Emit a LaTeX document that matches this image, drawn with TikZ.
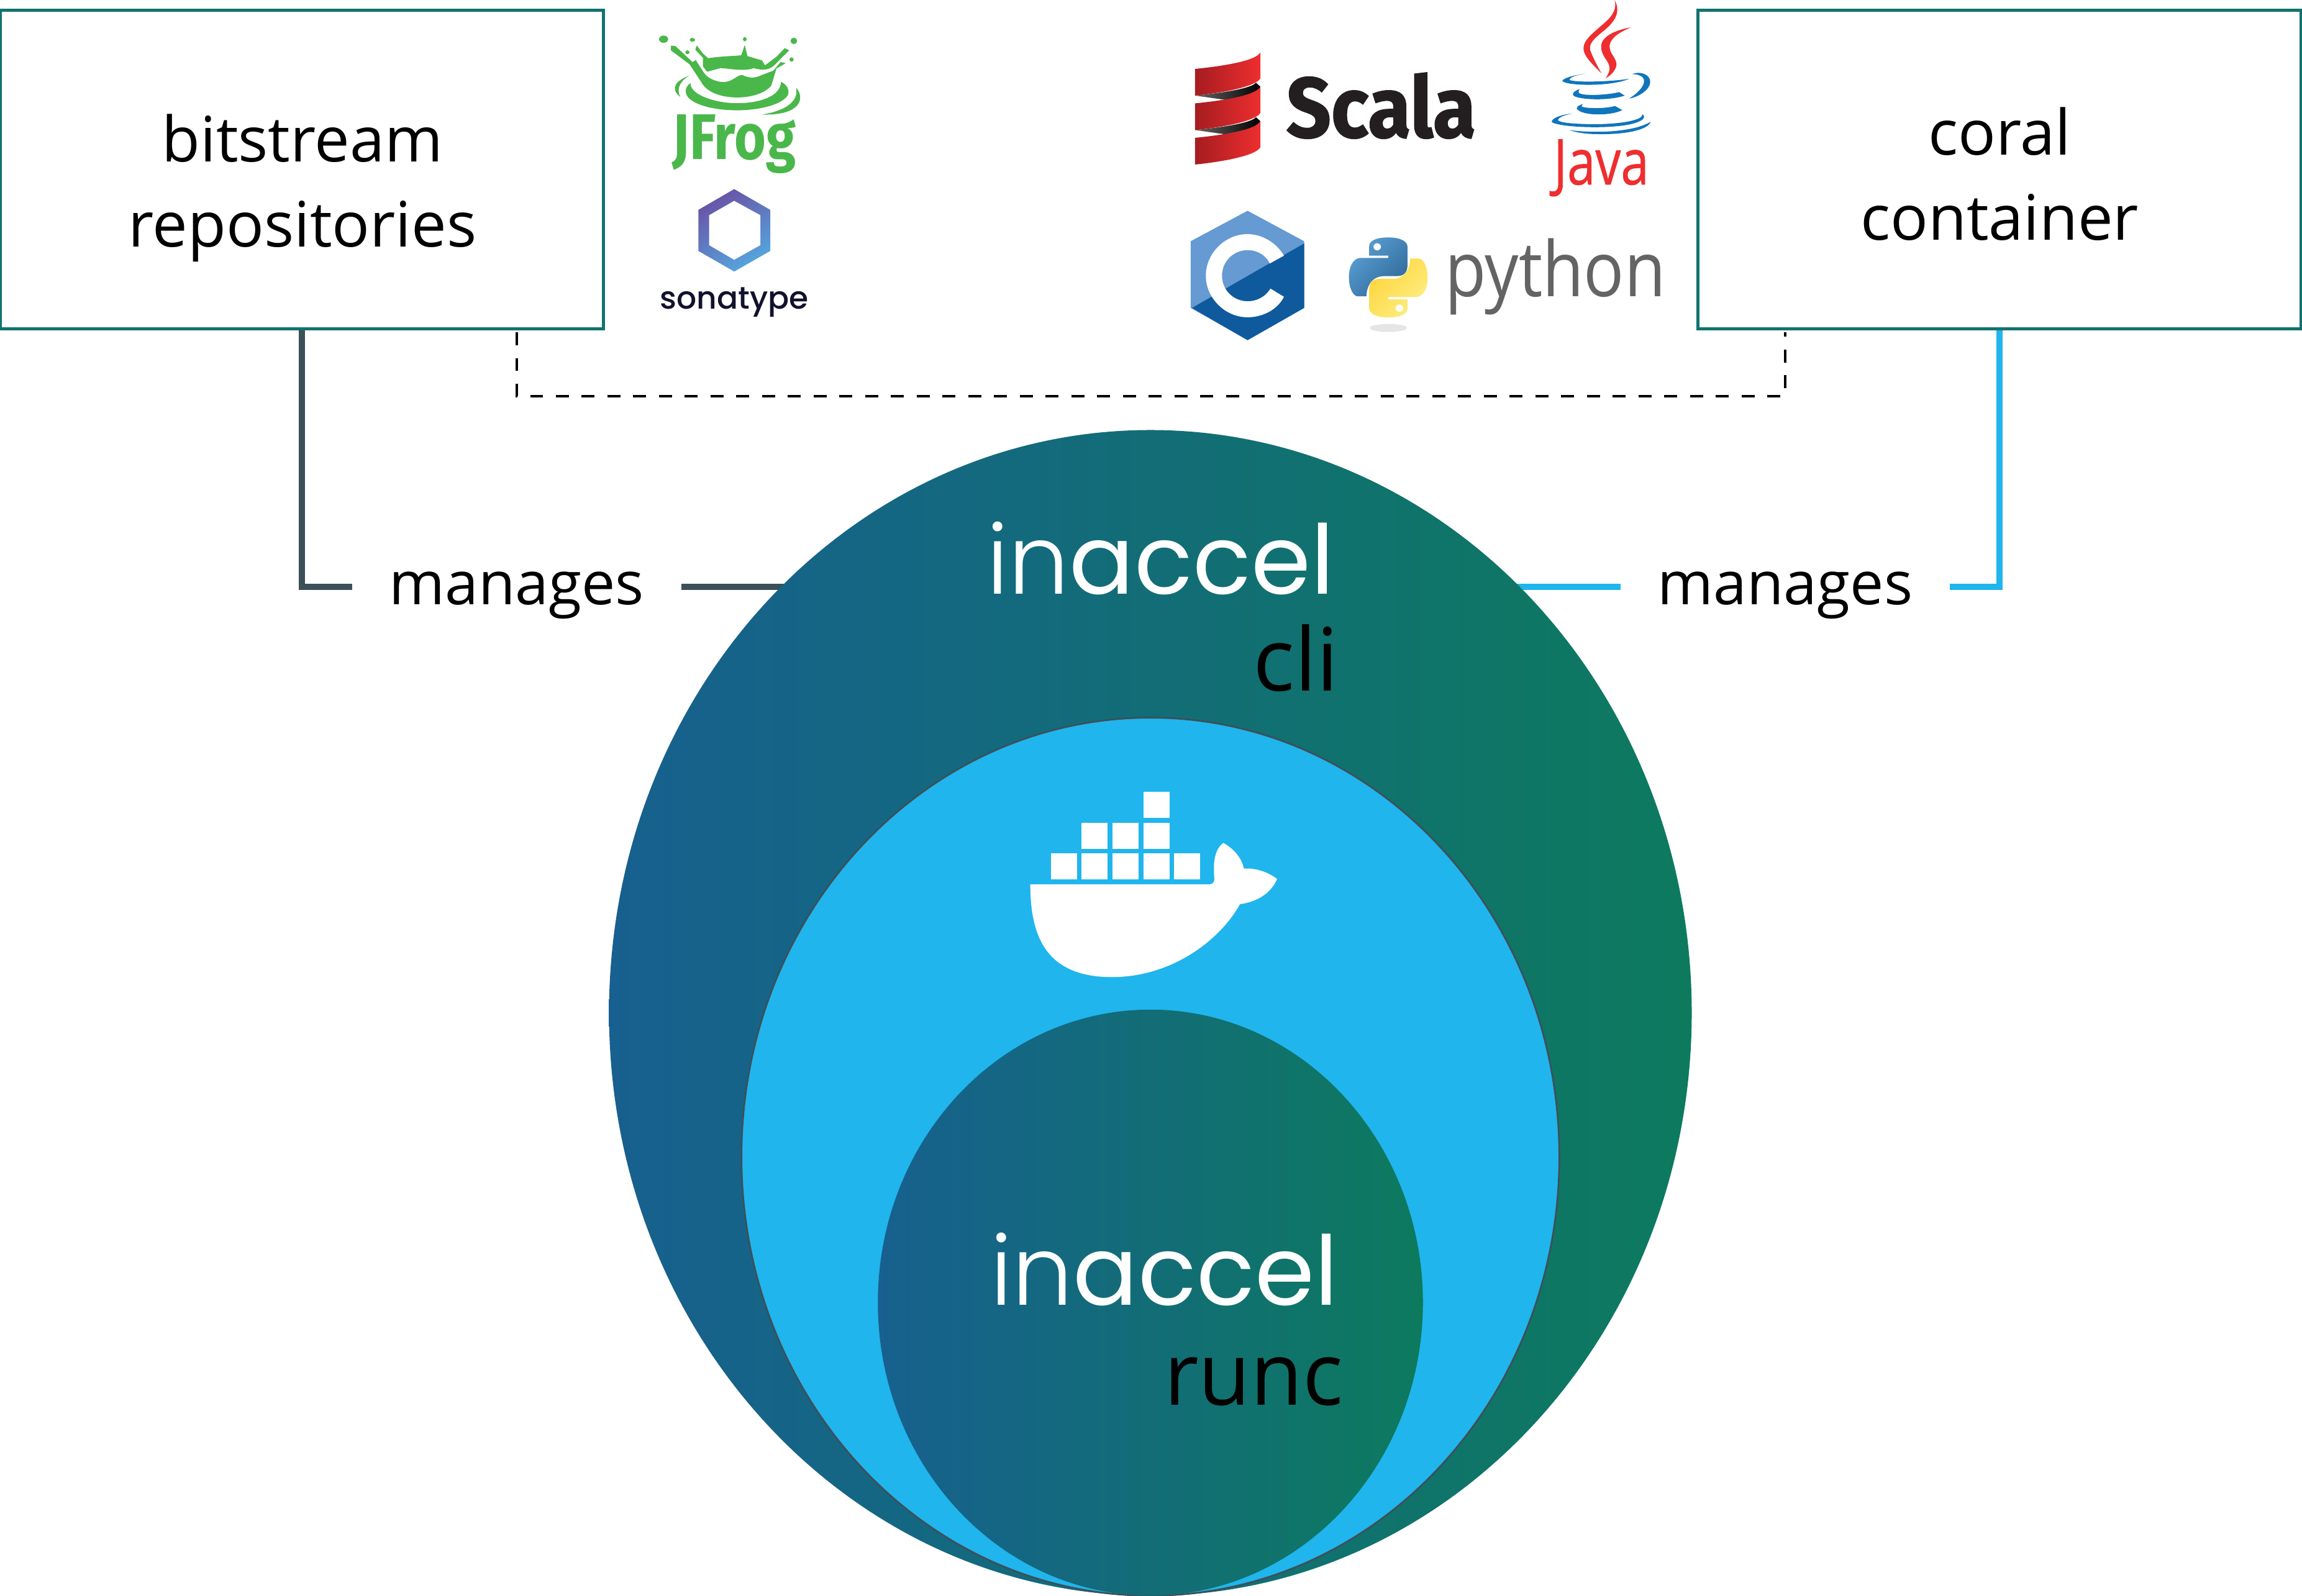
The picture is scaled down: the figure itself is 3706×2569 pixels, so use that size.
\documentclass[tikz,border=0pt]{standalone}
\usepackage{fontspec}
\setmainfont{Open Sans}
\newfontfamily\logofont{Poppins Light}
\newfontfamily\typefont{Poppins}
\newfontfamily\mediumfont{Poppins Medium}
\newfontfamily\heavyfont[BoldFeatures={FakeBold=1.2}]{Fira Sans}
\newfontfamily\boldfont{Fira Sans}
\newfontfamily\javafont[FakeBold=0.7]{Open Sans}
\usetikzlibrary{arrows.meta, positioning, shapes.geometric, calc}
\definecolor{cdeep}{HTML}{17608F}
\definecolor{cmid}{HTML}{0C6E78}
\definecolor{cgreen}{HTML}{0D7A5E}
\definecolor{csky}{HTML}{20B5EC}
\definecolor{cslate}{HTML}{3C505A}
\definecolor{cteal}{HTML}{11736F}
\definecolor{cfrog}{HTML}{4AB74A}
\definecolor{cink}{HTML}{12122E}
\definecolor{csonA}{HTML}{6953A6}
\definecolor{csonB}{HTML}{55A6DE}
\definecolor{cscala}{HTML}{231F20}
\definecolor{cscaladk}{HTML}{A51C20}
\definecolor{cjred}{HTML}{EE2E2F}
\definecolor{cjblue}{HTML}{0F75BC}
\definecolor{cclight}{HTML}{659AD2}
\definecolor{ccdark}{HTML}{0E5A9D}
\definecolor{cpyblue}{HTML}{5A9FD4}
\definecolor{cpydeep}{HTML}{306998}
\definecolor{cpypale}{HTML}{FCEF85}
\definecolor{cpygold}{HTML}{FFD43B}
\definecolor{cpygrey}{HTML}{646464}
\tikzset{
  every picture/.style={line width=1pt},
  boxframe/.style={draw=cteal, line width=1.3pt, minimum width=9.7cm, minimum height=5.13cm, inner sep=0pt},
  boxlabel/.style={align=center, font=\fontsize{28.7}{39}\selectfont, inner sep=0pt},
  manlabel/.style={font=\fontsize{27.5}{33}\selectfont, inner sep=0pt, outer sep=0.6cm, minimum width=4.06cm, text height=24pt, text depth=8pt},
  ringshade/.style={ellipse, inner sep=0pt, left color=cdeep, middle color=cmid, right color=cgreen},
  logoname/.style={font=\fontsize{44}{50}\selectfont, text=white, inner sep=0pt, anchor=base east},
  partname/.style={font=\fontsize{40}{46}\selectfont, text=black, inner sep=0pt, anchor=base east},
  tag/.style={inner sep=0pt, anchor=base},
  linkdark/.style={draw=cslate, line width=2.85pt},
  linksky/.style={draw=csky, line width=2.85pt},
  linkdash/.style={draw=black, line width=1.1pt, dash pattern=on 5.9pt off 5.9pt},
}
\begin{document}
\begin{tikzpicture}[x=0.01cm, y=-0.01cm]
  \useasboundingbox (0,0) rectangle (3706,2569);
  \node[boxframe] (repos) at (486,273) {};
  \node[boxframe] (coral) at (3219,273) {};
  \node[boxlabel] (reposlabel) at (487,303) {bitstream\\repositories};
  \node[boxlabel] (corallabel) at (3219,280) {coral\\container};
  \node[manlabel] (manleft) at (832,945) {manages};
  \node[manlabel] (manright) at (2874,945) {manages};
  \coordinate (dashleft) at (832,535);
  \coordinate (dashright) at (2874,535);
  \coordinate (cliwest) at (1270,945);
  \coordinate (clieast) at (2440,945);
  \draw[linkdash] (dashleft) -- (832,638) -- (2874,638) -- (dashright);
  \draw[linkdark] (repos.south) |- (manleft.west);
  \draw[linkdark] (manleft.east) -- (cliwest);
  \draw[linksky] (coral.south) |- (manright.east);
  \draw[linksky] (manright.west) -- (clieast);
  \node[ringshade, minimum width=17.42cm, minimum height=18.76cm] (cli) at (1852,1631) {};
  \node[ellipse, fill=csky, draw=cslate, line width=0.8pt, inner sep=0pt, minimum width=13.16cm, minimum height=14.13cm] (docker) at (1852,1862.5) {};
  \node[ringshade, minimum width=8.77cm, minimum height=9.43cm] (runc) at (1852,2097.5) {};
  \node[logoname] (cliname) at (2150,956) {{\logofont in}{\typefont accel}};
  \node[partname] (clipart) at (2157,1112) {cli};
  \node[logoname] (runcname) at (2156,2101) {{\logofont in}{\typefont accel}};
  \node[partname] (runcpart) at (2164,2262) {\scalebox{.97}[1]{runc}};
  \begin{scope}[shift={(1600,1240)}, scale=1/3]
    \foreach \X/\Y in {276/402, 424/402, 573/402, 722/402, 871/402, 424/254, 573/254, 722/254, 722/105} {
      \fill[white] (\X,\Y) rectangle ++(126,126);
    }
    \fill[white] (176,552) -- (1040,552) .. controls (1058,552) and (1066,540) .. (1065,525)
      .. controls (1058,450) and (1065,385) .. (1108,352) .. controls (1160,380) and (1200,430) .. (1207,476)
      .. controls (1260,472) and (1320,490) .. (1368,526) .. controls (1340,590) and (1280,635) .. (1188,648)
      .. controls (1100,810) and (870,1000) .. (570,1000) .. controls (250,1000) and (176,800) .. (176,552) -- cycle;
  \end{scope}
  \begin{scope}[shift={(1000,0)}, xscale=1/3, yscale=1/2.9]
    \fill[cfrog] (205,183) ellipse (22 and 17) (344,186) ellipse (13 and 9) (320,244) ellipse (10 and 9)
      (597,183) ellipse (9 and 10) (834,191) ellipse (16 and 15) (823,278) ellipse (10 and 10);
    \fill[cfrog] (365,212) -- (395,250) -- (420,272) .. controls (480,262) and (550,262) .. (580,258)
      -- (597,210) -- (610,262) -- (680,282) -- (695,305) -- (750,265) -- (790,225) -- (812,235) -- (780,265) -- (745,300)
      .. controls (720,325) and (690,332) .. (640,318) .. controls (600,335) and (520,320) .. (480,318)
      -- (415,335) -- (395,310) -- (395,270) -- (358,232) -- cycle;
    \fill[cfrog] (240,213) -- (262,215) -- (345,290) -- (360,280) -- (400,340) .. controls (420,370) and (470,385) .. (500,383)
      .. controls (540,380) and (560,350) .. (585,350) .. controls (610,362) and (640,370) .. (680,350)
      -- (735,330) -- (770,290) -- (795,295) -- (750,320) -- (725,400) .. controls (690,440) and (620,455) .. (560,455)
      .. controls (480,455) and (410,430) .. (385,380) -- (330,300) -- (240,235) -- cycle;
    \fill[cfrog] (335,388) .. controls (330,440) and (450,482) .. (560,482) .. controls (670,482) and (770,450) .. (772,382)
      .. controls (800,395) and (815,420) .. (805,445) .. controls (770,495) and (650,515) .. (560,515)
      .. controls (430,515) and (310,480) .. (312,425) .. controls (312,410) and (320,398) .. (335,388) -- cycle;
    \fill[cfrog] (330,352) .. controls (270,375) and (230,410) .. (285,452) .. controls (270,420) and (275,385) .. (330,352) -- cycle;
    \fill[cfrog] (845,410) .. controls (885,450) and (880,540) .. (680,535) .. controls (780,520) and (860,480) .. (845,410) -- cycle;
    \shade[top color=csonA, bottom color=csonB, shading angle=30] (546,883) -- (720,980) -- (720,1172) -- (546,1268) -- (373,1172) -- (373,980) -- cycle;
    \fill[white] (546,938) -- (672,1005) -- (672,1145) -- (546,1213) -- (425,1145) -- (425,1005) -- cycle;
  \end{scope}
  \node[tag, text=cfrog, font=\boldfont\bfseries\fontsize{29.5}{36}\selectfont] (jfrog) at (1182,256) {\scalebox{.84}[1]{JFrog}};
  \node[tag, text=cink, font=\mediumfont\fontsize{14.3}{18}\selectfont] (sonatype) at (1182,497) {sonatype};
  \begin{scope}[shift={(1880,0)}, xscale=0.542, yscale=0.358]
    \foreach \Y in {0,155} {
      \shade[left color=black!60, right color=black] (81,{430+\Y}) .. controls (180,{415+\Y}) and (250,{395+\Y}) .. (262,{372+\Y})
        -- (275,{390+\Y}) .. controls (265,{420+\Y}) and (210,{440+\Y}) .. (175,{450+\Y}) -- cycle;
    }
    \foreach \Y in {0,155,310} {
      \shade[left color=cscaladk, right color=cjred] (81,{310+\Y}) .. controls (180,{295+\Y}) and (265,{270+\Y}) .. (275,{235+\Y})
        -- (275,{352+\Y}) .. controls (265,{385+\Y}) and (180,{415+\Y}) .. (81,{430+\Y}) -- cycle;
    }
    \fill[cclight] (237,948) -- (405,1085) -- (405,1385) -- (237,1530) -- (68,1385) -- (68,1085) -- cycle;
    \fill[ccdark] (405,1095) -- (405,1385) -- (237,1530) -- (72,1385) -- cycle;
    \fill[white] (345,1150) .. controls (320,1085) and (275,1053) .. (237,1053) .. controls (170,1053) and (113,1140) .. (113,1240)
      .. controls (113,1340) and (170,1427) .. (237,1427) .. controls (280,1427) and (325,1395) .. (345,1335) -- (305,1298)
      .. controls (290,1335) and (265,1355) .. (237,1355) .. controls (195,1355) and (161,1305) .. (161,1240)
      .. controls (161,1175) and (195,1125) .. (237,1125) .. controls (265,1125) and (290,1145) .. (303,1185) -- cycle;
    \fill[black!10] (655,1475) ellipse (55 and 18);
    \newcommand{\snakepath}{(598,1150) -- (655,1150) -- (655,1160) -- (570,1160) .. controls (550,1165) and (538,1200) .. (538,1245)
      .. controls (538,1295) and (550,1333) .. (565,1333) -- (590,1333) .. controls (590,1300) and (600,1245) .. (640,1242) -- (680,1242)
      .. controls (705,1242) and (712,1220) .. (712,1190) -- (712,1110) .. controls (712,1085) and (690,1068) .. (655,1068)
      .. controls (615,1068) and (598,1085) .. (598,1110) -- cycle}
    \shade[top color=cpyblue, bottom color=cpydeep, shading angle=45] \snakepath;
    \fill[white] (622,1110) ellipse (11 and 16);
    \begin{scope}[rotate around={180:(655,1248)}]
      \shade[top color=cpygold, bottom color=cpypale, shading angle=45] \snakepath;
      \fill[white] (622,1110) ellipse (11 and 16);
    \end{scope}
  \end{scope}
  \begin{scope}[shift={(2380,0)}, scale=1/3]
    \fill[cjred] (658,0) .. controls (685,50) and (670,95) .. (610,145) .. controls (555,190) and (525,215) .. (545,255)
      .. controls (555,280) and (575,320) .. (595,355) .. controls (540,300) and (505,265) .. (508,230)
      .. controls (510,190) and (560,155) .. (610,110) .. controls (650,75) and (670,40) .. (658,0) -- cycle;
    \fill[cjred] (738,132) .. controls (680,155) and (625,190) .. (635,235) .. controls (640,265) and (665,280) .. (667,310)
      .. controls (668,335) and (640,365) .. (615,378) .. controls (640,340) and (640,320) .. (615,285)
      .. controls (595,255) and (590,235) .. (595,210) .. controls (605,175) and (660,145) .. (738,132) -- cycle;
    \fill[cjblue] (520,355) .. controls (450,365) and (405,380) .. (406,392) .. controls (430,415) and (640,420) .. (730,380)
      .. controls (650,395) and (450,400) .. (440,385) .. controls (445,370) and (480,362) .. (520,355) -- cycle;
    \fill[cjblue] (742,358) .. controls (790,340) and (830,365) .. (830,395) .. controls (830,435) and (770,470) .. (728,476)
      .. controls (770,450) and (805,415) .. (800,385) .. controls (795,365) and (765,358) .. (742,358) -- cycle;
    \fill[cjblue] (490,430) .. controls (460,440) and (450,455) .. (460,462) .. controls (480,480) and (620,490) .. (707,462)
      -- (680,445) .. controls (620,460) and (500,465) .. (485,448) .. controls (483,440) and (485,435) .. (490,430) -- cycle;
    \fill[cjblue] (507,502) .. controls (475,510) and (470,525) .. (480,530) .. controls (510,560) and (640,560) .. (695,532)
      -- (660,512) .. controls (620,525) and (520,525) .. (500,515) .. controls (498,510) and (500,506) .. (507,502) -- cycle;
    \fill[cjblue] (455,548) .. controls (390,555) and (350,575) .. (355,590) .. controls (400,620) and (740,630) .. (795,575)
      .. controls (805,565) and (800,555) .. (790,552) .. controls (800,565) and (760,595) .. (580,600)
      .. controls (440,600) and (380,590) .. (385,578) .. controls (390,565) and (420,555) .. (455,548) -- cycle;
    \fill[cjblue] (440,628) .. controls (550,645) and (750,640) .. (832,588) .. controls (820,630) and (700,650) .. (580,648)
      .. controls (520,648) and (470,640) .. (440,628) -- cycle;
  \end{scope}
  \node[inner sep=0pt, anchor=base west, text=cscala, font=\heavyfont\bfseries\fontsize{39}{46}\selectfont] (scala) at (2069,221) {\scalebox{.92}[1]{Scala}};
  \node[tag, text=cjred, font=\javafont\fontsize{29}{34}\selectfont] (java) at (2578,297) {\scalebox{.8}[1]{Java}};
  \node[tag, text=cpygrey, font=\fontsize{35}{42}\selectfont] (python) at (2504,477) {\scalebox{.88}[1]{python}};
\end{tikzpicture}
\end{document}
